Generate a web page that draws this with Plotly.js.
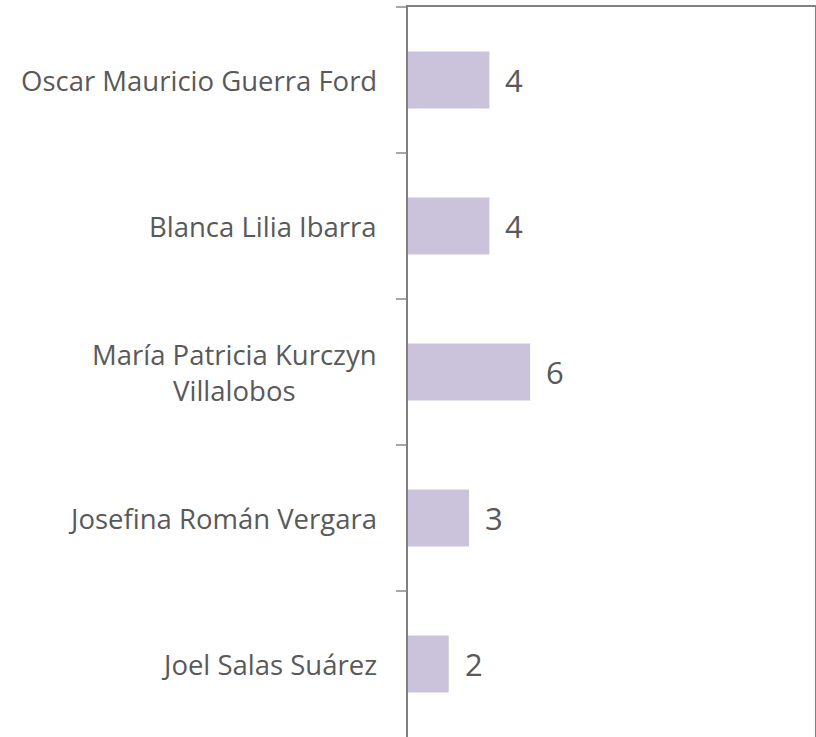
<!DOCTYPE html>
<html><head><meta charset="utf-8">
<script src="https://cdn.plot.ly/plotly-3.0.1.min.js"></script>
<style>html,body{margin:0;padding:0;background:#fff}</style>
</head><body><div id="chart" style="width:816px;height:737px"></div>
<script>
const categories = ["Oscar Mauricio Guerra Ford", "Blanca Lilia Ibarra", "María Patricia Kurczyn<br>Villalobos", "Josefina Román Vergara", "Joel Salas Suárez"];
const values = [4, 4, 6, 3, 2];

const FONT = "'Open Sans', sans-serif";
const TXT = "#595959";

const annotations = [];
categories.forEach((c, i) => {
  annotations.push({
    x: values[i], y: c, xref: "x", yref: "y",
    text: String(values[i]), showarrow: false,
    xanchor: "left", xshift: 14,
    font: {family: FONT, size: 31, color: TXT}
  });
  annotations.push({
    x: 0, y: c, xref: "paper", yref: "y",
    text: c, showarrow: false, align: "center",
    xanchor: "right", xshift: -29,
    font: {family: FONT, size: 27.5, color: TXT}
  });
});

const data = [{
  type: "bar", orientation: "h",
  x: values, y: categories,
  marker: {color: "#cbc3dc"},
  hoverinfo: "none"
}];

const layout = {
  width: 816, height: 737,
  margin: {l: 408, r: 1, t: 7, b: 0, pad: 0},
  paper_bgcolor: "#ffffff", plot_bgcolor: "#ffffff",
  bargap: 0.61,
  showlegend: false,
  font: {family: FONT, color: TXT},
  xaxis: {
    range: [0, 20], side: "top", showline: true, linecolor: "#808080", linewidth: 2,
    showticklabels: false, ticks: "", showgrid: false, zeroline: false, fixedrange: true
  },
  yaxis: {
    type: "category", autorange: "reversed",
    showline: true, linecolor: "#808080", linewidth: 2, mirror: true,
    ticks: "outside", tickson: "boundaries", ticklen: 10, tickwidth: 2, tickcolor: "#a6a6a6",
    showticklabels: false, showgrid: false, zeroline: false, fixedrange: true
  },
  annotations: annotations
};

Plotly.newPlot("chart", data, layout, {displayModeBar: false, staticPlot: true});
</script>
</body></html>
